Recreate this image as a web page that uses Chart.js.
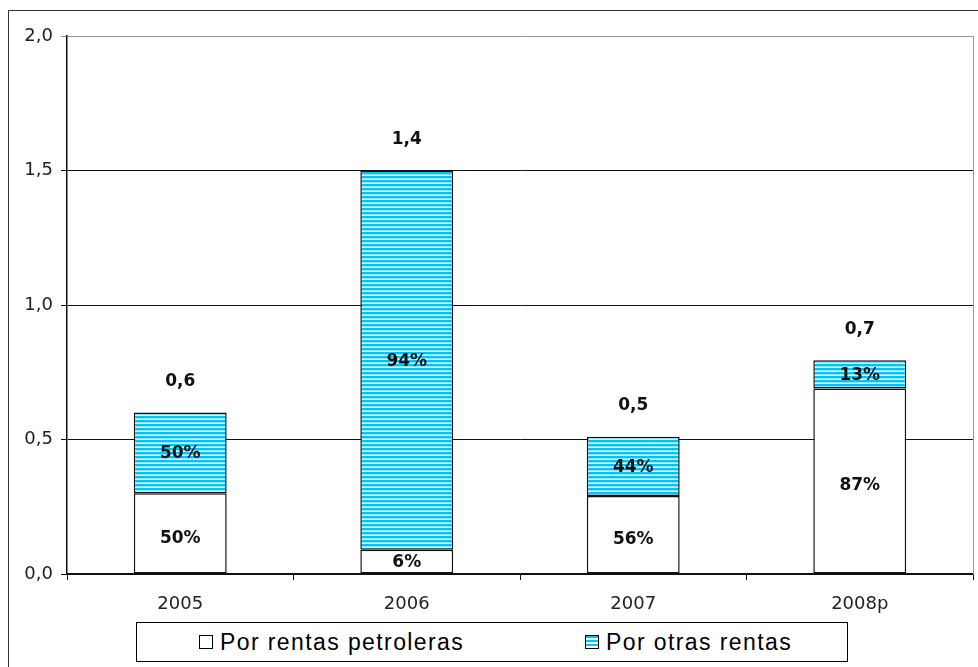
<!DOCTYPE html>
<html>
<head>
<meta charset="utf-8">
<script src="https://cdn.jsdelivr.net/npm/chart.js@4/dist/chart.umd.min.js"></script>
<style>
  body { margin: 0; background: #fff; }
  #wrap { position: relative; width: 978px; height: 667px; overflow: hidden; }
  #frame { position: absolute; left: 8px; top: 10px; width: 1000px; height: 1000px; border: 1px solid #333; box-sizing: border-box; }
  #legend { position: absolute; left: 136px; top: 622px; width: 712px; height: 40px; border: 1px solid #000;
            box-sizing: border-box; background: #fff; font: 23px "Liberation Sans", Arial, sans-serif; color: #000; letter-spacing: 1.4px; }
  #legend .item { position: absolute; top: 6px; white-space: nowrap; line-height: 26px; }
  #legend .sw { display: inline-block; width: 12px; height: 12px; border: 1px solid #000; margin-right: 7px; vertical-align: 1px; }
  #legend .sw.stripe { background: repeating-linear-gradient(to bottom, #00c4f4 0, #00c4f4 2px, #fff 2px, #fff 4px); }
</style>
</head>
<body>
<div id="wrap">
  <div id="frame"></div>
  <canvas id="chart" width="978" height="667"></canvas>
  <div id="legend">
    <span class="item" style="left:62px"><span class="sw"></span>Por rentas petroleras</span>
    <span class="item" style="left:448px"><span class="sw stripe"></span>Por otras rentas</span>
  </div>
</div>
<script>
const years = ['2005', '2006', '2007', '2008p'];
const petroleras = [0.30, 0.09, 0.29, 0.69];
const otras = [0.30, 1.41, 0.22, 0.105];
const pctPetroleras = ['50%', '6%', '56%', '87%'];
const pctOtras = ['50%', '94%', '44%', '13%'];
const totals = ['0,6', '1,4', '0,5', '0,7'];

// striped fill like the original
function stripes() {
    const c = document.createElement('canvas');
    c.width = 4; c.height = 4;
    const g = c.getContext('2d');
    g.fillStyle = '#fff'; g.fillRect(0, 0, 4, 4);
    g.fillStyle = '#00c4f4'; g.fillRect(0, 0, 4, 2);
    g.fillStyle = '#8fe2fa'; g.fillRect(0, 2, 4, 1);
    return g.createPattern(c, 'repeat');
}

const labelsPlugin = {
    id: 'labels',
    afterDatasetsDraw(chart) {
        const ctx = chart.ctx;
        ctx.save();
        ctx.fillStyle = '#111';
        ctx.textAlign = 'center';
        ctx.textBaseline = 'middle';
        const pctFont = 'bold 17px "DejaVu Sans", sans-serif';
        const m0 = chart.getDatasetMeta(0).data;
        const m1 = chart.getDatasetMeta(1).data;
        ctx.font = pctFont;
        m0.forEach((b, i) => {
            const h = b.base - b.y;
            ctx.fillText(pctPetroleras[i], b.x, (b.y + b.base) / 2 + (h > 40 ? 5 : 1));
        });
        m1.forEach((b, i) => {
            ctx.font = pctFont;
            ctx.fillText(pctOtras[i], b.x, (b.y + b.base) / 2 + 1);
            ctx.font = 'bold 17px "DejaVu Sans", sans-serif';
            ctx.fillText(totals[i], b.x, b.y - 31);
        });
        // grey right border of plot area
        const a = chart.chartArea;
        ctx.strokeStyle = '#999';
        ctx.lineWidth = 1;
        ctx.beginPath();
        ctx.moveTo(a.right + 0.5, a.top);
        ctx.lineTo(a.right + 0.5, a.bottom);
        ctx.stroke();
        ctx.restore();
    }
};

new Chart(document.getElementById('chart'), {
    type: 'bar',
    data: {
        labels: years,
        datasets: [
            { label: 'Por rentas petroleras', data: petroleras, backgroundColor: '#fff', borderColor: '#111', borderWidth: 1.5, borderSkipped: false },
            { label: 'Por otras rentas', data: otras, backgroundColor: stripes(), borderColor: '#111', borderWidth: 1.5, borderSkipped: false }
        ]
    },
    plugins: [labelsPlugin],
    options: {
        responsive: false,
        animation: false,
        layout: { padding: { top: 36, left: 0, right: 5, bottom: 0 } },
        plugins: { legend: { display: false }, tooltip: { enabled: false } },
        datasets: { bar: { categoryPercentage: 1, barPercentage: 0.41 } },
        scales: {
            x: {
                stacked: true,
                grid: { offset: true, drawOnChartArea: false, color: '#111', tickLength: 6 },
                border: { color: '#111', width: 1.5 },
                ticks: { color: '#222', padding: 14, font: { family: 'DejaVu Sans', size: 18 } },
                afterFit(scale) { scale.height = 93; }
            },
            y: {
                stacked: true,
                min: 0, max: 2,
                grid: { color: ctx => ctx.tick && ctx.tick.value === 2 ? '#999' : '#111', tickLength: 6 },
                border: { color: '#111', width: 1.5 },
                ticks: {
                    stepSize: 0.5, color: '#222', padding: 8,
                    font: { family: 'DejaVu Sans', size: 18 },
                    callback: v => v.toFixed(1).replace('.', ',')
                },
                afterFit(scale) { scale.width = 67; }
            }
        }
    }
});
</script>
</body>
</html>
